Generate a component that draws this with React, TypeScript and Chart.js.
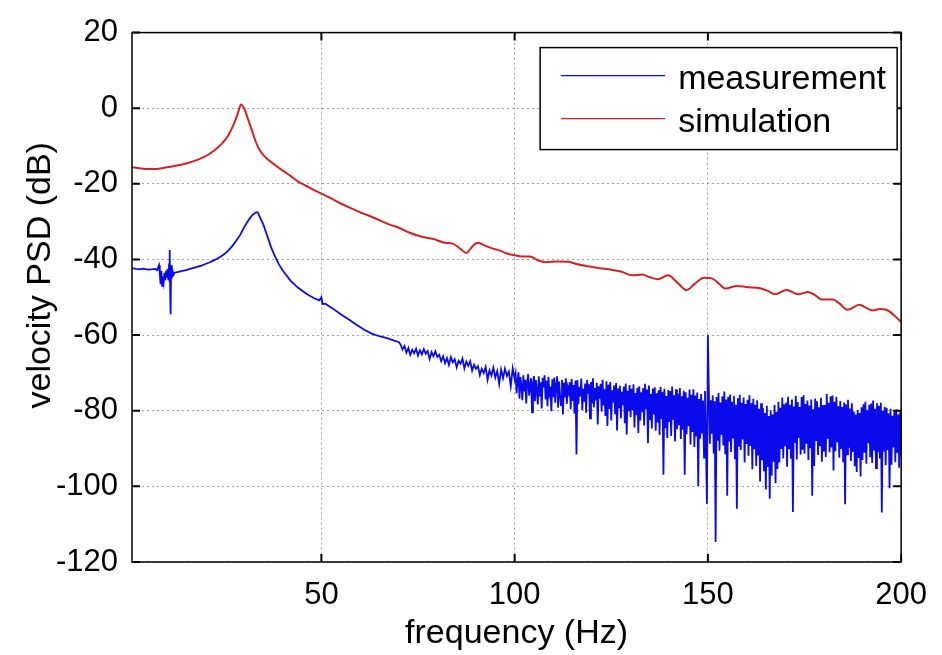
import React, { useEffect, useRef } from "react";
import { Chart, registerables } from "chart.js";

Chart.register(...registerables);

const FONT = '"Liberation Sans", Arial, Helvetica, sans-serif';

const xTickValues = [50, 100, 150, 200];
const yTickValues = [20, 0, -20, -40, -60, -80, -100, -120];
const xTitle = "frequency (Hz)";
const yTitle = "velocity PSD (dB)";
const seriesNames = ["measurement", "simulation"];

const simulationHz = [1, 3, 5, 7, 9, 11, 13, 15, 17, 19, 21, 23, 25, 26, 27, 28, 28.5, 29.2, 30, 31, 32, 33, 34, 35, 36, 38, 40, 42, 44, 46, 48, 50, 52, 55, 58, 60, 62, 65, 68, 70, 73, 76, 79, 82, 84, 86, 87.5, 89, 90.5, 92, 94, 96, 98, 100, 102, 104, 106, 108, 111, 114, 116, 119, 122, 125, 127.5, 130.5, 133, 135, 137, 139.7, 142, 144.5, 146.5, 149, 151, 153, 154.5, 157.5, 160, 163.5, 165.5, 167.3, 170.4, 173.3, 175.9, 178, 179.4, 182.3, 184, 186.1, 189.2, 191, 192.6, 194.5, 196.2, 198, 200];
const simulationDb = [-15.6, -15.9, -16.1, -16.1, -15.8, -15.5, -15.1, -14.6, -14.0, -13.2, -12.1, -10.6, -8.5, -7.0, -5.0, -2.5, -1.0, 1.0, 0.0, -2.8, -5.8, -8.8, -11.0, -12.4, -13.4, -15.0, -16.5, -17.9, -19.4, -20.5, -21.6, -22.6, -23.6, -25.2, -26.6, -27.5, -28.3, -29.6, -30.9, -31.6, -33.0, -34.0, -34.6, -35.6, -35.8, -37.2, -38.3, -36.6, -35.6, -36.2, -37.0, -37.6, -38.4, -38.9, -39.2, -39.2, -40.2, -40.7, -40.5, -40.6, -41.2, -41.8, -42.3, -42.7, -43.2, -44.2, -44.0, -44.7, -45.2, -44.2, -46.0, -48.1, -46.5, -44.8, -45.0, -46.5, -47.7, -47.0, -47.3, -47.6, -48.3, -49.2, -48.1, -49.2, -48.6, -49.6, -50.6, -50.6, -51.6, -53.3, -52.0, -52.8, -53.5, -53.1, -53.3, -54.6, -56.5];

// measurement, low-frequency part (explicit frequencies)
const measurementHz = [1, 2, 3, 4, 5, 6, 7, 7.5, 8, 8.2, 8.4, 8.6, 8.8, 9, 9.2, 9.4, 9.6, 9.8, 10, 10.2, 10.4, 10.6, 10.7, 10.8, 10.9, 11, 11.1, 11.3, 11.5, 11.8, 12, 13, 14, 15, 16, 17, 18, 19, 20, 21, 22, 23, 24, 25, 26, 27, 28, 29, 30, 31, 32, 33, 33.5, 34, 35, 36, 37, 38, 39, 40, 42, 44, 46, 48, 49.5, 50, 50.3, 51, 53, 55, 57, 59, 61, 63, 65, 67, 69, 70];
const measurementDb = [-42.3, -42.5, -42.6, -42.4, -42.7, -42.6, -42.5, -42.8, -41.5, -44.0, -46.5, -43.0, -47.0, -44.5, -46.0, -43.5, -45.5, -43.0, -44.8, -42.5, -45.5, -41.0, -46.0, -37.5, -50.0, -54.5, -41.5, -45.0, -43.0, -44.0, -43.5, -43.3, -43.0, -42.8, -42.5, -42.2, -41.9, -41.6, -41.2, -40.8, -40.3, -39.8, -39.2, -38.5, -37.5, -36.4, -35.0, -33.5, -31.5, -29.8, -28.4, -27.6, -27.5, -28.6, -30.8, -33.8, -36.8, -39.2, -41.3, -42.9, -45.6, -47.5, -49.0, -50.2, -50.8, -50.0, -51.8, -51.7, -53.0, -54.5, -55.8, -57.2, -58.5, -59.6, -60.3, -60.8, -61.5, -61.8];

// measurement, mildly noisy part: every 0.5 Hz from 70.5 Hz to 100 Hz
const measurementMidStartHz = 70.5;
const measurementMidStepHz = 0.5;
const measurementMidDb = [
  -62.5, -63.8, -62.9, -64.6, -63.4, -65.2, -63.9, -64.8, -63.6, -65.4,
  -64.0, -65.1, -63.7, -64.9, -64.2, -66.3, -64.5, -65.6, -64.3, -65.8,
  -65.2, -66.9, -65.6, -67.4, -66.1, -67.9, -65.8, -67.2, -66.4, -68.5,
  -66.8, -67.6, -66.2, -68.8, -67.0, -68.1, -66.9, -69.4, -67.8, -68.9,
  -68.2, -70.6, -68.9, -70.0, -68.4, -71.8, -69.3, -70.7, -68.6, -71.2,
  -69.5, -72.9, -69.1, -71.4, -68.9, -70.8, -69.7, -73.5, -68.8, -71.6,
];

// measurement, strongly noisy part: every 0.25 Hz from 100.25 Hz to 200 Hz
const measurementHighStartHz = 100.25;
const measurementHighStepHz = 0.25;
const measurementHighDb = [
  -70.2, -75.4, -72.0, -69.8, -76.8, -71.1, -73.5, -77.2,
  -70.6, -74.9, -71.8, -78.1, -72.4, -70.3, -76.0, -73.2,
  -71.4, -80.4, -72.9, -70.8, -77.5, -71.9, -74.6, -78.3,
  -70.9, -76.2, -72.5, -79.4, -71.3, -73.8, -70.6, -77.0,
  -72.1, -78.8, -71.0, -75.3, -73.6, -80.1, -71.7, -76.4,
  -71.2, -77.9, -73.4, -70.9, -79.2, -72.3, -75.8, -78.6,
  -71.8, -81.0, -72.6, -76.5, -71.4, -78.2, -73.9, -75.1,
  -72.5, -79.6, -71.6, -77.4, -73.2, -80.8, -72.0, -91.6,
  -71.9, -78.3, -73.7, -76.2, -71.5, -79.8, -74.2, -77.6,
  -72.8, -80.5, -71.9, -75.4, -73.0, -82.0, -72.4, -78.1,
  -71.4, -79.1, -74.0, -77.3, -72.6, -83.6, -73.5, -76.8,
  -72.9, -80.2, -71.8, -78.6, -74.3, -81.4, -72.2, -84.0,
  -73.1, -79.5, -72.4, -82.6, -74.6, -77.8, -73.3, -80.9,
  -72.7, -85.2, -74.1, -79.3, -73.4, -82.0, -75.0, -78.5,
  -73.6, -83.3, -72.8, -86.3, -74.7, -80.1, -73.2, -81.7,
  -74.2, -79.8, -73.0, -84.4, -75.3, -81.2, -73.9, -85.9,
  -73.5, -82.6, -75.1, -80.4, -74.0, -83.9, -72.9, -79.6,
  -74.4, -88.6, -73.3, -82.5, -75.6, -84.7, -74.1, -81.0,
  -73.8, -85.3, -75.4, -83.1, -74.6, -86.4, -73.7, -82.2,
  -75.0, -96.9, -74.2, -84.6, -76.1, -87.2, -74.5, -83.0,
  -74.8, -86.7, -73.6, -82.4, -75.9, -88.1, -74.3, -84.9,
  -75.5, -83.8, -74.0, -87.5, -76.2, -85.0, -74.7, -96.9,
  -75.1, -86.2, -76.6, -84.1, -74.4, -88.9, -75.8, -85.6,
  -74.3, -89.6, -76.0, -86.8, -75.2, -99.9, -76.9, -87.4,
  -75.6, -86.0, -77.3, -92.4, -74.8, -88.5, -104.6, -60.0,
  -75.0, -88.7, -77.2, -86.1, -76.0, -91.3, -77.5, -114.7,
  -76.4, -87.9, -75.3, -90.6, -77.8, -86.4, -76.2, -89.2,
  -74.9, -91.5, -77.0, -102.5, -76.3, -88.2, -75.7, -90.9,
  -77.6, -87.1, -76.1, -92.8, -78.4, -105.9, -76.7, -89.5,
  -75.8, -90.4, -77.9, -87.6, -76.5, -93.7, -78.2, -88.8,
  -77.1, -91.9, -75.9, -89.3, -78.0, -95.5, -76.8, -90.2,
  -78.4, -94.6, -77.2, -91.8, -79.5, -98.7, -78.0, -93.1,
  -79.3, -96.0, -80.6, -100.8, -78.7, -94.9, -81.4, -103.3,
  -79.9, -97.2, -81.0, -93.5, -78.5, -99.2, -80.3, -95.4,
  -77.6, -93.7, -79.2, -90.1, -76.5, -92.6, -78.3, -89.4,
  -77.8, -94.8, -76.3, -90.2, -78.4, -92.7, -77.0, -106.8,
  -78.9, -88.5, -76.1, -92.9, -77.7, -87.2, -79.0, -91.6,
  -76.4, -90.3, -75.9, -91.4, -78.2, -88.7, -77.3, -93.0,
  -78.6, -89.9, -77.0, -102.5, -79.6, -94.6, -76.8, -88.0,
  -77.5, -91.7, -79.1, -89.4, -76.6, -93.5, -78.5, -90.8,
  -78.5, -92.2, -75.6, -87.4, -77.9, -91.0, -76.2, -89.7,
  -76.0, -95.8, -77.6, -90.7, -76.4, -88.3, -78.8, -92.4,
  -77.4, -90.1, -79.0, -93.6, -77.8, -104.7, -78.3, -91.5,
  -77.1, -89.8, -79.4, -93.3, -78.0, -90.9, -80.2, -94.7,
  -81.0, -96.2, -79.8, -92.5, -80.6, -97.4, -79.1, -93.0,
  -78.3, -91.1, -77.6, -94.0, -79.9, -88.6, -78.4, -92.3,
  -78.1, -93.8, -77.3, -90.5, -79.5, -95.2, -78.0, -91.0,
  -78.7, -92.6, -77.9, -106.9, -80.1, -90.8, -79.0, -94.4,
  -79.2, -90.4, -80.7, -100.5, -79.5, -94.3, -81.3, -89.7,
  -80.2, -93.6, -79.6, -91.2, -81.0, -95.1, -80.4, -92.0,
];

const BLUE = "rgb(10,10,235)";
const RED = "rgb(210,35,35)";
const GRID = "rgba(80,80,80,0.55)";

const matlabFrame = {
  id: "matlabFrame",
  afterDatasetsDraw(chart: any) {
    const { ctx, chartArea: a, scales } = chart;
    const xs = scales.x;
    const ys = scales.y;
    ctx.save();
    ctx.strokeStyle = "#000";
    ctx.lineWidth = 1.5;
    ctx.strokeRect(a.left, a.top, a.right - a.left, a.bottom - a.top);
    const L = 8;
    ctx.lineWidth = 2;
    ctx.beginPath();
    for (const t of xs.ticks) {
      const px = xs.getPixelForValue(t.value);
      ctx.moveTo(px, a.bottom);
      ctx.lineTo(px, a.bottom - L);
      ctx.moveTo(px, a.top);
      ctx.lineTo(px, a.top + L);
    }
    for (const t of ys.ticks) {
      const py = ys.getPixelForValue(t.value);
      ctx.moveTo(a.left, py);
      ctx.lineTo(a.left + L, py);
      ctx.moveTo(a.right, py);
      ctx.lineTo(a.right - L, py);
    }
    ctx.stroke();

    // legend
    const bw = 357;
    const bh = 102;
    const bx = a.right - 4 - bw;
    const by = a.top + 15;
    ctx.fillStyle = "#fff";
    ctx.fillRect(bx, by, bw, bh);
    ctx.lineWidth = 1.5;
    ctx.strokeStyle = "#000";
    ctx.strokeRect(bx, by, bw, bh);
    const rows = [
      { line: 28, base: 41 },
      { line: 71, base: 84 },
    ];
    chart.data.datasets.forEach((ds: any, i: number) => {
      const r = rows[i];
      ctx.beginPath();
      ctx.strokeStyle = ds.borderColor;
      ctx.lineWidth = 1.2;
      ctx.moveTo(bx + 21, by + r.line);
      ctx.lineTo(bx + 125, by + r.line);
      ctx.stroke();
      ctx.fillStyle = "#000";
      ctx.font = `34px ${FONT}`;
      ctx.textAlign = "left";
      ctx.textBaseline = "alphabetic";
      ctx.fillText(ds.label, bx + 138, by + r.base);
    });
    ctx.restore();
  },
  afterDraw(chart: any) {
    const { ctx, chartArea: a } = chart;
    ctx.save();
    ctx.fillStyle = "#000";
    ctx.font = `34px ${FONT}`;
    ctx.textAlign = "center";
    ctx.textBaseline = "alphabetic";
    ctx.fillText(xTitle, (a.left + a.right) / 2, 643);
    ctx.translate(50, (a.top + a.bottom) / 2 - 22);
    ctx.rotate(-Math.PI / 2);
    ctx.fillText(yTitle, 0, 0);
    ctx.restore();
  },
};

export default function App() {
  const canvasRef = useRef<HTMLCanvasElement | null>(null);

  useEffect(() => {
    const canvas = canvasRef.current;
    if (!canvas) return;

    const simulationPoints = simulationHz.map((f, i) => ({ x: f, y: simulationDb[i] }));
    const measurementPoints = measurementHz.map((f, i) => ({ x: f, y: measurementDb[i] }));
    measurementMidDb.forEach((v, i) => {
      measurementPoints.push({ x: measurementMidStartHz + i * measurementMidStepHz, y: v });
    });
    measurementHighDb.forEach((v, i) => {
      measurementPoints.push({ x: measurementHighStartHz + i * measurementHighStepHz, y: v });
    });

    const tickFont = { family: FONT, size: 31 };

    const chart = new Chart(canvas, {
      type: "line",
      data: {
        datasets: [
          {
            label: seriesNames[0],
            data: measurementPoints,
            borderColor: BLUE,
            borderWidth: 1.8,
            pointRadius: 0,
            tension: 0,
            fill: false,
          },
          {
            label: seriesNames[1],
            data: simulationPoints,
            borderColor: RED,
            borderWidth: 2,
            pointRadius: 0,
            cubicInterpolationMode: "monotone",
            fill: false,
          },
        ],
      },
      options: {
        animation: false,
        responsive: false,
        events: [],
        layout: { padding: { left: 0, top: 24, right: 39, bottom: 0 } },
        plugins: {
          legend: { display: false },
          tooltip: { enabled: false },
          title: { display: false },
        },
        scales: {
          x: {
            type: "linear",
            min: 1,
            max: 200,
            afterBuildTicks: (s: any) => {
              s.ticks = xTickValues.map((v) => ({ value: v }));
            },
            afterFit: (s: any) => {
              s.height = 93;
            },
            grid: { color: GRID, lineWidth: 1, drawTicks: false },
            border: { display: false, dash: [2, 3] },
            ticks: {
              font: tickFont,
              color: "#000",
              padding: 15,
              maxRotation: 0,
              autoSkip: false,
            },
          },
          y: {
            type: "linear",
            min: -120,
            max: 20,
            afterBuildTicks: (s: any) => {
              s.ticks = yTickValues.map((v) => ({ value: v }));
            },
            afterFit: (s: any) => {
              s.width = 132;
            },
            grid: { color: GRID, lineWidth: 1, drawTicks: false },
            border: { display: false, dash: [2, 3] },
            ticks: {
              font: tickFont,
              color: "#000",
              padding: 14,
              autoSkip: false,
            },
          },
        },
      },
      plugins: [matlabFrame],
    } as any);

    return () => {
      chart.destroy();
    };
  }, []);

  return (
    <div style={{ position: "absolute", left: 0, top: 0, width: 942, height: 655, background: "#fff" }}>
      <canvas ref={canvasRef} width={942} height={655} style={{ display: "block" }} />
    </div>
  );
}
